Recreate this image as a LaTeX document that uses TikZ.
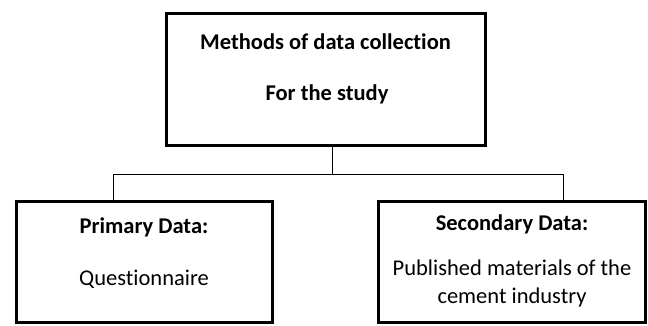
\documentclass[tikz,border=0pt]{standalone}
\usepackage{fontspec}
\setmainfont[Ligatures=CommonOff]{Carlito}
\begin{document}
\begin{tikzpicture}[x=1pt,y=-1pt,
  box/.style={draw=black,line width=3pt,inner sep=0pt},
  link/.style={draw=black,line width=1pt},
  lbl/.style={anchor=base,inner sep=0pt,font=\fontsize{22.5}{27}\selectfont},
  blbl/.style={lbl,font=\fontsize{22.5}{27}\selectfont\bfseries}]
\useasboundingbox (0,0) rectangle (648,325);
\node[box,minimum width=318.5pt,minimum height=132pt] (top) at (325.75,79.5) {};
\node[box,minimum width=256pt,minimum height=121pt] (left) at (144,261.5) {};
\node[box,minimum width=267pt,minimum height=121pt] (right) at (511.5,261.5) {};
\node[blbl] (t1) at (325.5,49) {Methods of data collection};
\node[blbl] (t2) at (327,100) {For the study};
\node[blbl] (l1) at (144,233) {Primary Data:};
\node[lbl] (l2) at (144,285) {Questionnaire};
\node[blbl] (r1) at (512,230) {Secondary Data:};
\node[lbl] (r2) at (512,275) {Published materials of the};
\node[lbl] (r3) at (512,303) {cement industry};
\coordinate (j) at (332,174);
\coordinate (jl) at (113,174);
\coordinate (jr) at (563,174);
\draw[link] (j |- top.south) -- (j);
\draw[link] (jl) -- (jr);
\draw[link] (jl) -- (jl |- left.north);
\draw[link] (jr) -- (jr |- right.north);
\end{tikzpicture}
\end{document}
